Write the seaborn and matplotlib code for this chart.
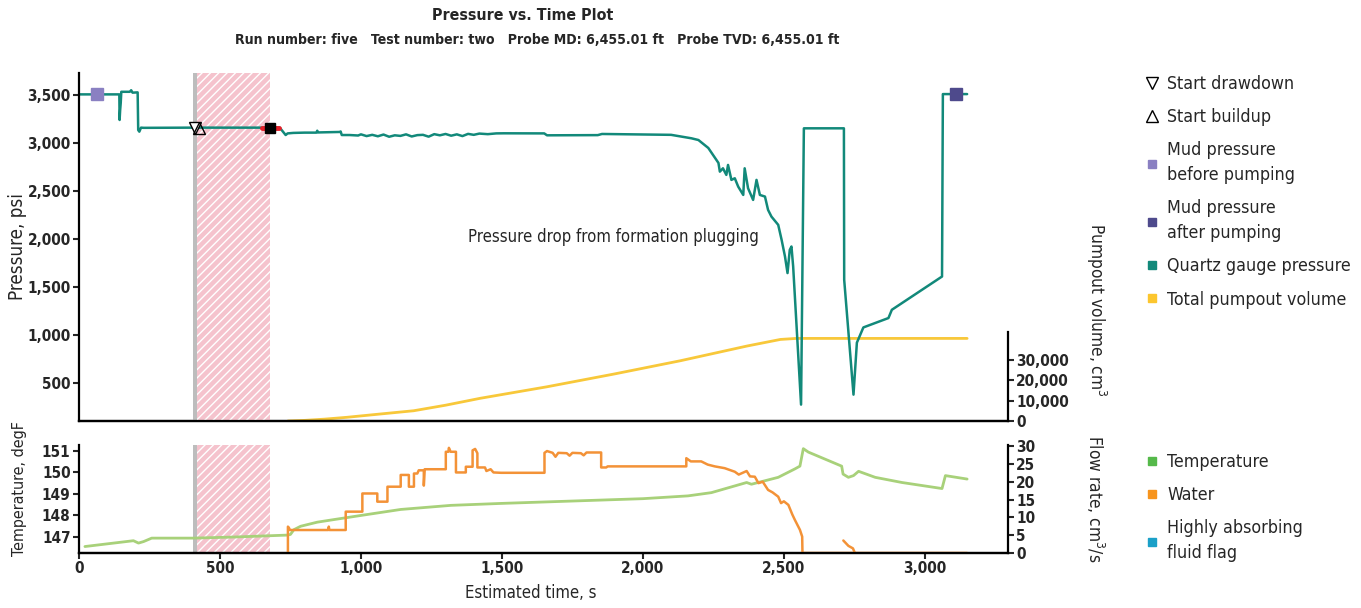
import pandas as pd
import matplotlib
matplotlib.use('Agg')
import matplotlib.pyplot as plt
import seaborn as sns
from matplotlib.lines import Line2D
from matplotlib.ticker import FuncFormatter

sns.set_theme(style='white')
# condensed sans, close to the narrow face of the original
plt.rcParams['font.family'] = ['DejaVu Sans']
plt.rcParams['font.stretch'] = 'condensed'

# ---- data ----
pressure_time = [0, 143, 144, 146, 148, 150, 180, 185, 190, 208, 210, 214, 220, 230, 400, 690, 700, 712,
                 733, 740, 760, 800, 842, 845, 848, 925, 928, 932,
                 960, 990, 1000, 1020, 1040, 1060, 1080, 1100, 1120, 1140, 1160, 1180, 1200, 1220,
                 1240, 1260, 1280, 1300, 1320, 1340, 1360, 1380, 1400, 1420, 1450, 1480, 1507,
                 1650, 1660, 1840, 1855, 2100, 2172, 2197, 2232, 2268,
                 2273, 2284, 2296, 2302, 2314, 2326, 2338, 2356, 2361, 2373, 2391, 2403, 2415, 2433,
                 2444, 2456, 2480, 2492, 2504, 2513, 2521, 2527, 2533, 2561, 2571, 2713, 2714,
                 2747, 2759, 2782, 2871, 2883, 3061, 3064, 3150]
pressure_psi = [3507, 3507, 3240, 3344, 3417, 3534, 3534, 3550, 3525, 3528, 3135, 3118, 3160, 3158, 3160, 3160, 3163, 3160,
                3083, 3100, 3105, 3108, 3108, 3128, 3110, 3115, 3120, 3083,
                3083, 3078, 3090, 3072, 3085, 3070, 3088, 3065, 3080, 3074, 3090, 3068, 3082, 3085,
                3066, 3092, 3080, 3094, 3076, 3090, 3072, 3095, 3085, 3098, 3092, 3100, 3101,
                3100, 3080, 3082, 3094, 3085, 3049, 3031, 2948, 2792,
                2701, 2736, 2667, 2771, 2615, 2632, 2545, 2458, 2736, 2528, 2406, 2615, 2458, 2441,
                2302, 2232, 2146, 1990, 1816, 1643, 1885, 1920, 1712, 271, 3153, 3153, 1573,
                375, 917, 1076, 1174, 1260, 1607, 3510, 3510]

volume_time = [741, 800, 870, 950, 1060, 1187, 1300, 1424, 1660, 1897, 2133, 2370, 2488, 2545, 3150]
volume_cm3 = [0, 300, 900, 1800, 3300, 5000, 7700, 11100, 16700, 22900, 29400, 36600, 39800, 40300, 40300]

temp_time = [21, 193, 211, 229, 258, 406, 548, 738, 750, 762, 786, 845, 904, 999, 1141, 1319, 1497,
             2000, 2160, 2243, 2368, 2385, 2480, 2539, 2557, 2569, 2587, 2705, 2710, 2729, 2747,
             2765, 2824, 2919, 3061, 3073, 3150]
temp_degf = [146.56, 146.83, 146.72, 146.79, 146.95, 146.95, 147.0, 147.09, 147.12, 147.34, 147.5, 147.69,
             147.81, 148.0, 148.28, 148.47, 148.56, 148.78, 148.91, 149.06, 149.53, 149.45, 149.77,
             150.16, 150.29, 151.1, 150.94, 150.29, 149.92, 149.77, 149.85, 150.05, 149.77, 149.53,
             149.25, 149.85, 149.69]

water_time = [741, 741, 745, 748, 884, 886, 888, 946, 946, 1005, 1005, 1058, 1058, 1094, 1094, 1141, 1141,
              1170, 1170, 1188, 1188, 1200, 1205, 1223, 1223, 1226, 1301, 1301, 1310, 1312, 1318, 1337,
              1337, 1372, 1372, 1396, 1396, 1405, 1413, 1413, 1440, 1445, 1460, 1470, 1497, 1651, 1651,
              1660, 1680, 1690, 1700, 1730, 1740, 1750, 1780, 1790, 1800, 1852, 1852, 1870, 1875, 2154,
              2154, 2170, 2207, 2230, 2255, 2290, 2326, 2340, 2368, 2380, 2397, 2410, 2425, 2444, 2460,
              2480, 2490, 2500, 2516, 2530, 2539, 2557, 2565, 2566, 3150,
              2711, 2729, 2745, 2752]
water_rate = [0, 7.4, 7.0, 6.45, 6.45, 7.4, 6.45, 6.45, 11.6, 11.6, 16.7, 16.7, 14.4, 14.4, 18.6, 18.6, 21.9,
              21.9, 18.6, 18.6, 22.3, 22.3, 23.2, 23.2, 18.9, 23.5, 23.5, 28.4, 28.4, 29.5, 28.4, 28.4,
              22.6, 22.6, 24.2, 24.2, 28.8, 29.2, 28.0, 24.0, 24.0, 23.0, 23.5, 22.6, 22.5, 22.5, 28.1,
              28.6, 28.1, 27.0, 28.1, 28.0, 27.3, 28.1, 28.0, 27.4, 28.2, 28.2, 24.0, 24.0, 24.3, 24.3,
              26.6, 25.7, 25.7, 24.8, 24.3, 23.8, 22.8, 22.0, 23.0, 21.5, 21.4, 19.6, 20.0, 17.7, 17.0,
              15.8, 14.0, 14.5, 13.5, 10.8, 9.3, 6.5, 4.6, 0, 0,
              3.5, 2.0, 1.3, 0]
# the last four points are a separate short piece after the pump restarts
water_seg = [0] * (len(water_time) - 4) + [1] * 4

flag_time = [741, 2750]
flag_rate = [0, 0]

drawdown = (412, 3160)
buildup = (424, 3160)
mud_before = (63, 3507)
mud_after = (3110, 3510)
buildup_end = (677, 3160)

gray_band = (403, 418)
pink_band = (418, 679)

teal = '#12897a'
yellow = '#f8c83a'
tgreen = '#a8d17a'
orange = '#f39237'
blue = '#1ba0c8'

fs_tick = 11
fs_leg = 12.8

df_p = pd.DataFrame({'t': pressure_time, 'p': pressure_psi})
df_v = pd.DataFrame({'t': volume_time, 'v': volume_cm3})
df_t = pd.DataFrame({'t': temp_time, 'T': temp_degf})
df_w = pd.DataFrame({'t': water_time, 'q': water_rate, 'seg': water_seg})
df_f = pd.DataFrame({'t': flag_time, 'q': flag_rate})

fig = plt.figure(figsize=(13.61, 6.08), dpi=100)
ax_p = fig.add_axes([79 / 1361, 1 - 421 / 608, 929 / 1361, 348 / 608])
ax_b = fig.add_axes([79 / 1361, 1 - 553 / 608, 929 / 1361, 108 / 608], sharex=ax_p)
ax_v = ax_p.twinx()
ax_q = ax_b.twinx()

for ax in (ax_p, ax_b):
    ax.axvspan(*gray_band, color='#bdbdbd', lw=0, zorder=0)
    ax.axvspan(*pink_band, facecolor='#f5c3cd', edgecolor='white', hatch='////', lw=0, zorder=0)

# top panel
sns.lineplot(data=df_v, x='t', y='v', ax=ax_v, color=yellow, lw=2, estimator=None, sort=False)
sns.lineplot(data=df_p, x='t', y='p', ax=ax_p, color=teal, lw=1.8, estimator=None, sort=False)
ax_p.plot([649, 708], [buildup_end[1]] * 2, color='#e8202a', lw=3.5, zorder=5)
ax_p.plot(*buildup_end, marker='s', color='black', ms=7, zorder=6)
ax_p.plot(*drawdown, marker='v', mfc='white', mec='black', ms=9, mew=1, ls='none', zorder=6)
ax_p.plot(*buildup, marker='^', mfc='none', mec='black', ms=9, mew=1, ls='none', zorder=6)
ax_p.plot(*mud_before, marker='s', color='#8a80c2', ms=8, ls='none', zorder=6)
ax_p.plot(*mud_after, marker='s', color='#4e4a8c', ms=8, ls='none', zorder=6)
ax_p.text(1897, 2021, 'Pressure drop from formation plugging', ha='center', va='center', fontsize=12)

ax_p.set_zorder(ax_v.get_zorder() + 1)
ax_p.patch.set_visible(False)

ax_p.set_xlim(0, 3295)
ax_p.set_ylim(100, 3730)
ax_p.set_yticks(range(500, 3501, 500))
ax_v.set_ylim(0, 169800)
ax_v.set_yticks([0, 10000, 20000, 30000])
ax_v.spines['right'].set_bounds(0, 43500)

# bottom panel
sns.lineplot(data=df_t, x='t', y='T', ax=ax_b, color=tgreen, lw=2, estimator=None, sort=False)
sns.lineplot(data=df_f, x='t', y='q', ax=ax_q, color=blue, lw=2, estimator=None, sort=False)
sns.lineplot(data=df_w, x='t', y='q', units='seg', ax=ax_q, color=orange, lw=1.8,
             estimator=None, sort=False)
ax_b.set_ylim(146.26, 151.27)
ax_b.set_yticks([147, 148, 149, 150, 151])
ax_q.set_ylim(0, 30.3)
ax_q.set_yticks(range(0, 31, 5))
ax_b.set_xticks(range(0, 3001, 500))

comma = FuncFormatter(lambda v, _: f'{v:,.0f}')
ax_p.yaxis.set_major_formatter(comma)
ax_v.yaxis.set_major_formatter(comma)
ax_b.xaxis.set_major_formatter(comma)

for ax in (ax_p, ax_v, ax_b, ax_q):
    for s in ax.spines.values():
        s.set_linewidth(1.6)
        s.set_color('black')
    ax.spines['top'].set_visible(False)
    ax.tick_params(length=4, width=1.5, labelsize=fs_tick, pad=2, direction='out')
    for lab in ax.get_xticklabels() + ax.get_yticklabels():
        lab.set_fontweight('bold')
    ax.grid(False)
for ax in (ax_p, ax_b):
    ax.spines['right'].set_visible(False)
    ax.tick_params(axis='y', left=True)
ax_v.spines['left'].set_visible(False)
ax_q.spines['left'].set_visible(False)
ax_v.tick_params(axis='y', right=True)
ax_q.tick_params(axis='y', right=True)
ax_p.tick_params(axis='x', bottom=False, labelbottom=False)
ax_b.tick_params(axis='x', bottom=True)

ax_p.set_xlabel('')
ax_p.set_ylabel('Pressure, psi', fontsize=13.5)
ax_p.yaxis.set_label_coords(-0.056, 0.5)
ax_v.set_xlabel('')
ax_v.set_ylabel('Pumpout volume, cm$^3$', fontsize=12.4, rotation=270, va='bottom')
ax_v.yaxis.set_label_coords(1.082, 0.32)
ax_b.set_xlabel('Estimated time, s', fontsize=12)
ax_b.xaxis.set_label_coords(0.4865, -0.29)
ax_b.set_ylabel('Temperature, degF', fontsize=11.5)
ax_b.yaxis.set_label_coords(-0.056, 0.6)
ax_q.set_ylabel('Flow rate, cm$^3$/s', fontsize=12.4, rotation=270, va='bottom')
ax_q.yaxis.set_label_coords(1.082, 0.5)

fig.text(523 / 1361, 0.975, 'Pressure vs. Time Plot', ha='center', va='center', fontsize=11.4, fontweight='bold')
fig.text(537 / 1361, 0.934, 'Run number: five   Test number: two   Probe MD: 6,455.01 ft   Probe TVD: 6,455.01 ft',
         ha='center', va='center', fontsize=10.1, fontweight='bold')

top_handles = [
    Line2D([], [], marker='v', ls='none', mfc='white', mec='black', ms=9),
    Line2D([], [], marker='^', ls='none', mfc='white', mec='black', ms=9),
    Line2D([], [], marker='s', ls='none', color='#8a80c2', ms=6),
    Line2D([], [], marker='s', ls='none', color='#4e4a8c', ms=6),
    Line2D([], [], marker='s', ls='none', color='#12897a', ms=6),
    Line2D([], [], marker='s', ls='none', color='#fcc62e', ms=6),
]
top_labels = ['Start drawdown', 'Start buildup', 'Mud pressure\nbefore pumping',
              'Mud pressure\nafter pumping', 'Quartz gauge pressure', 'Total pumpout volume']
leg1 = fig.legend(top_handles, top_labels, loc='upper left', bbox_to_anchor=(1127 / 1361, 1 - 59 / 608),
                  frameon=False, fontsize=fs_leg, handlelength=1, handletextpad=0.35, labelspacing=0.85)

bot_handles = [
    Line2D([], [], marker='s', ls='none', color='#55b94a', ms=6),
    Line2D([], [], marker='s', ls='none', color='#f7941d', ms=6),
    Line2D([], [], marker='s', ls='none', color='#1ba0c8', ms=6),
]
bot_labels = ['Temperature', 'Water', 'Highly absorbing\nfluid flag']
leg2 = fig.legend(bot_handles, bot_labels, loc='upper left', bbox_to_anchor=(1127 / 1361, 1 - 437 / 608),
                  frameon=False, fontsize=fs_leg, handlelength=1, handletextpad=0.35, labelspacing=0.85)
for leg in (leg1, leg2):
    for t in leg.get_texts():
        t.set_linespacing(1.5)

fig.savefig('out.png', dpi=100)
